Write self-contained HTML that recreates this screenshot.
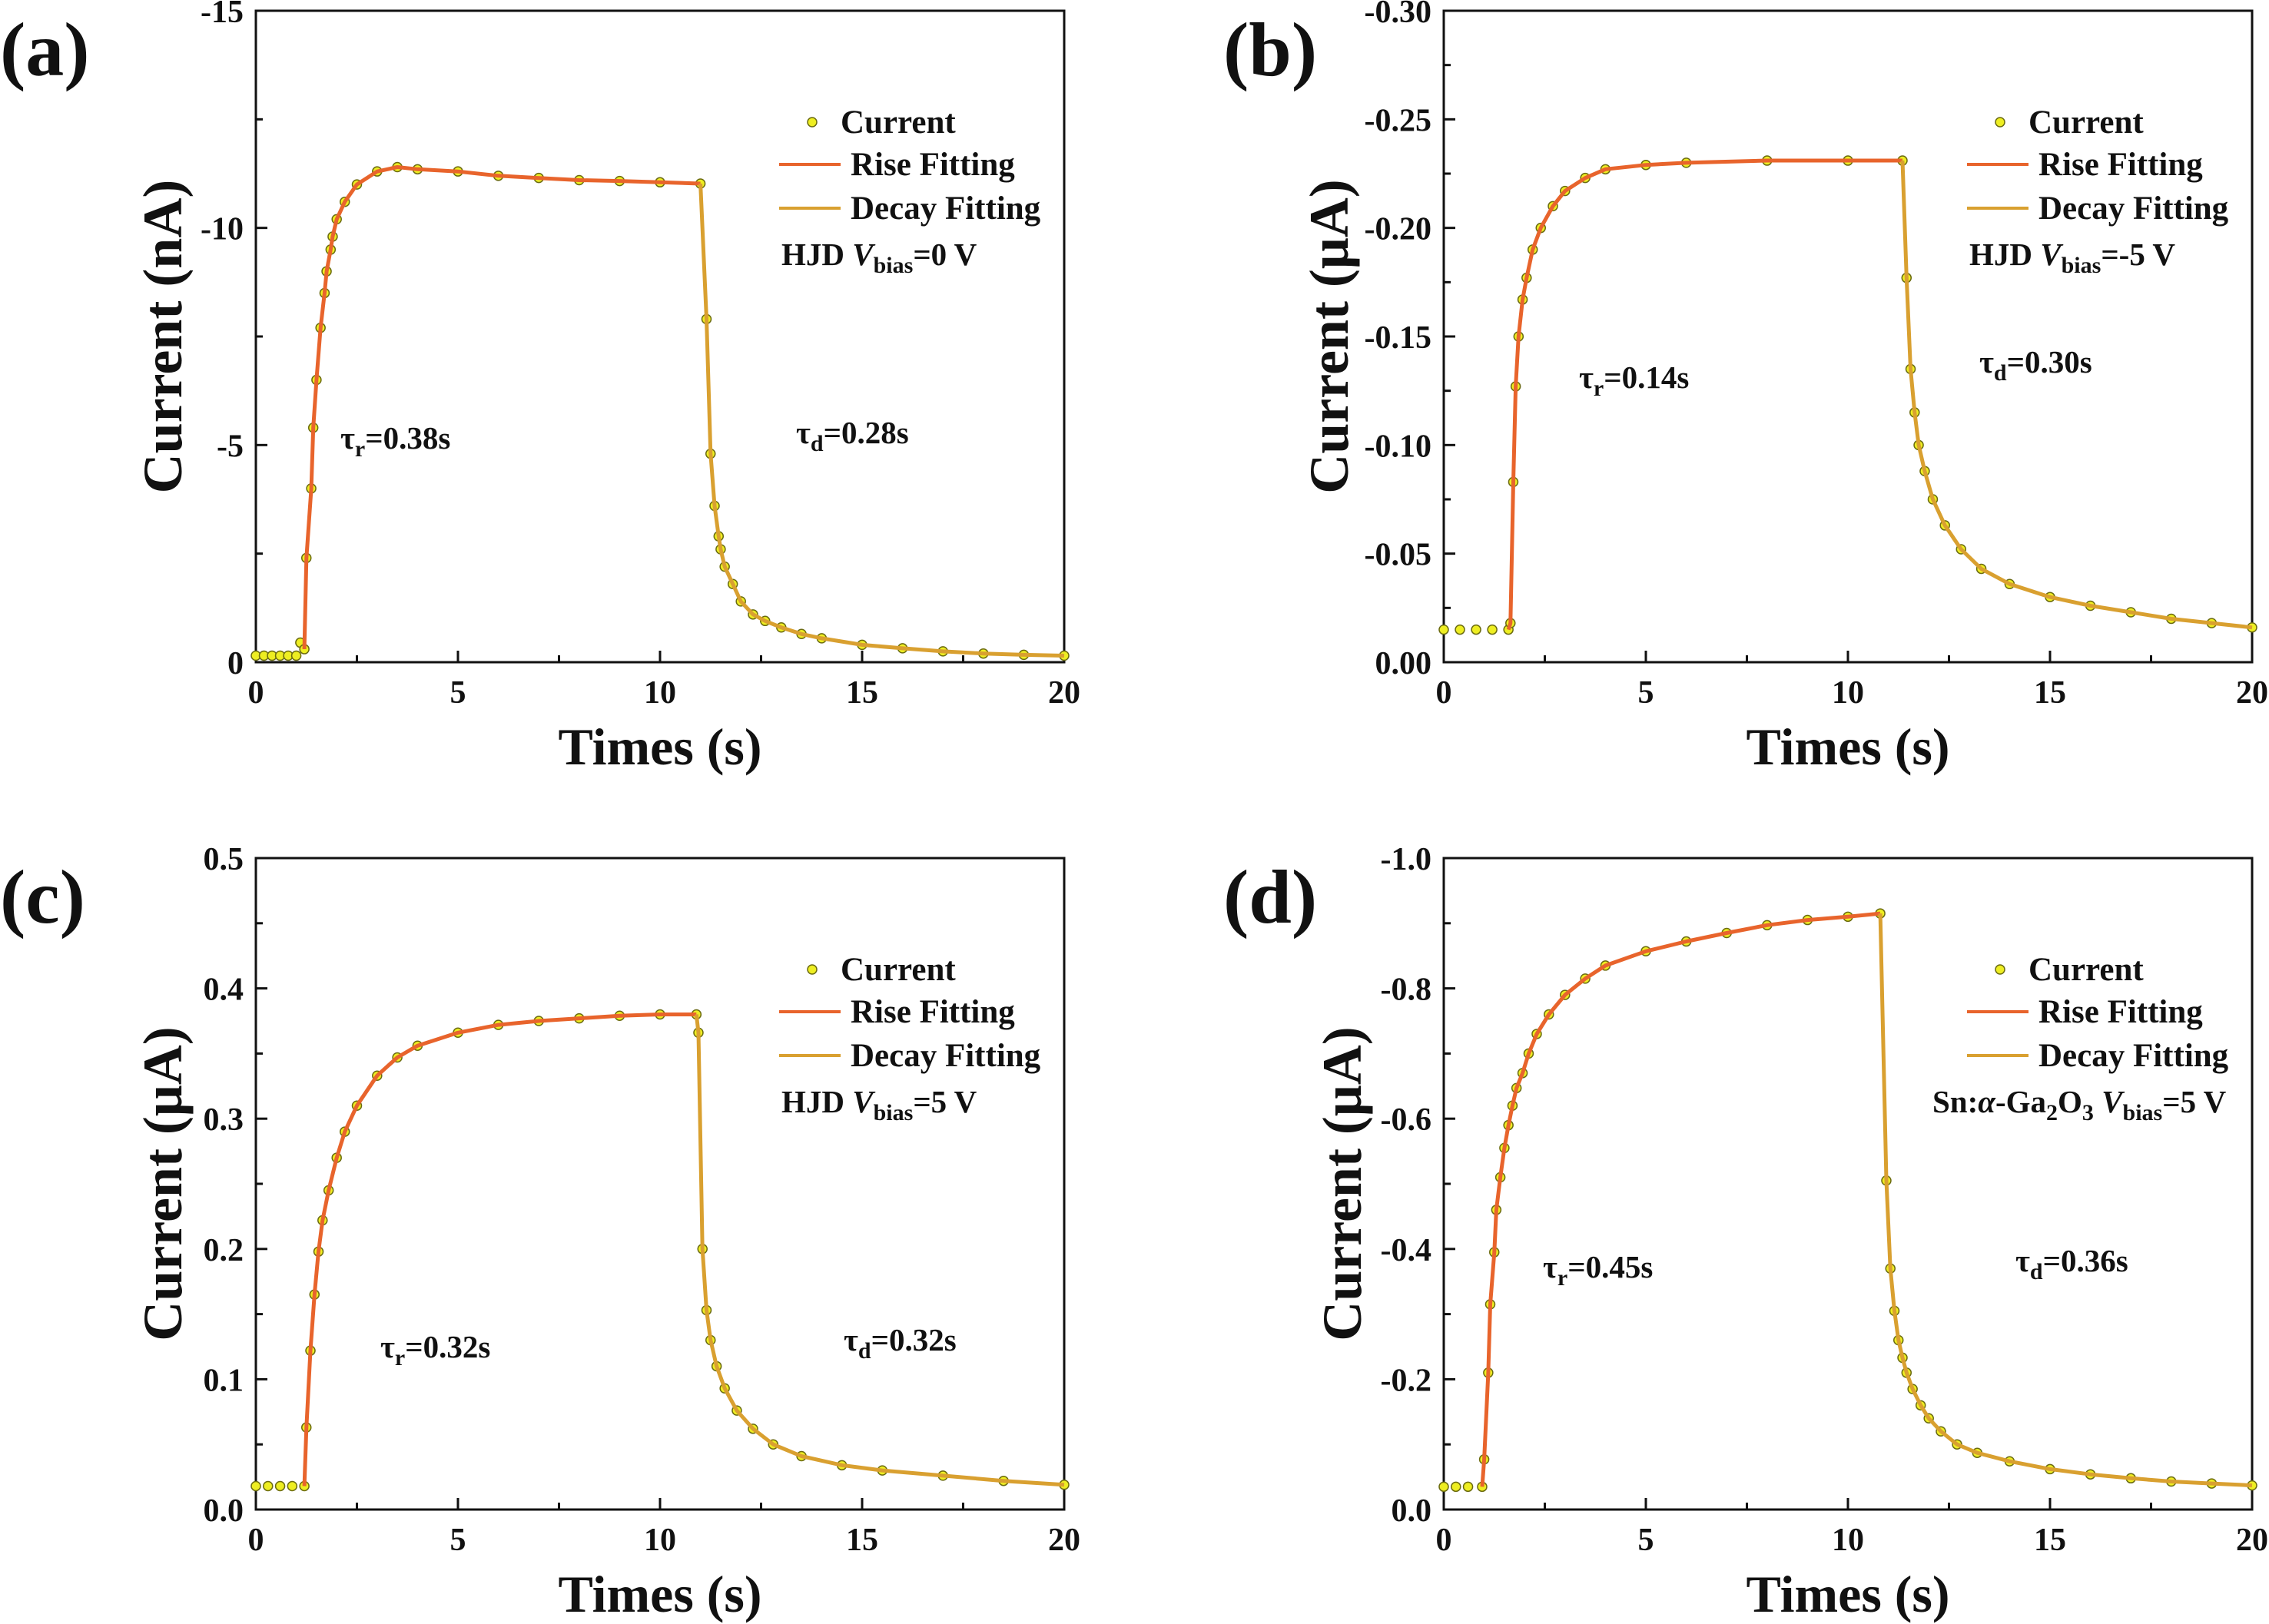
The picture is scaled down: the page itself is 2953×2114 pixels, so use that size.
<!DOCTYPE html>
<html><head><meta charset="utf-8"><style>
html,body{margin:0;padding:0;background:#fff}
svg{display:block}
text{font-family:"Liberation Serif",serif;font-weight:bold;fill:#111}
</style></head><body>
<svg id="chart" width="2953" height="2114" viewBox="0 0 2953 2114" xmlns="http://www.w3.org/2000/svg"></svg>
<script>
// ---- data ----
const timesA = [0,0.2,0.4,0.6,0.8,1.0,1.1,1.2,1.25,1.37,1.42,1.5,1.6,1.7,1.75,1.85,1.9,2.0,2.2,2.5,3.0,3.5,4,5,6,7,8,9,10,11.0,11.15,11.25,11.35,11.45,11.5,11.6,11.8,12.0,12.3,12.6,13,13.5,14,15,16,17,18,19,20];
const valuesA = [-0.15,-0.15,-0.15,-0.15,-0.15,-0.15,-0.45,-0.3,-2.4,-4.0,-5.4,-6.5,-7.7,-8.5,-9.0,-9.5,-9.8,-10.2,-10.6,-11.0,-11.3,-11.4,-11.35,-11.3,-11.2,-11.15,-11.1,-11.08,-11.05,-11.02,-7.9,-4.8,-3.6,-2.9,-2.6,-2.2,-1.8,-1.4,-1.1,-0.95,-0.8,-0.65,-0.55,-0.4,-0.32,-0.25,-0.2,-0.17,-0.15];
const timesB = [0,0.4,0.8,1.2,1.6,1.65,1.72,1.78,1.85,1.95,2.05,2.2,2.4,2.7,3,3.5,4,5,6,8,10,11.35,11.45,11.55,11.65,11.75,11.9,12.1,12.4,12.8,13.3,14,15,16,17,18,19,20];
const valuesB = [-0.015,-0.015,-0.015,-0.015,-0.015,-0.018,-0.083,-0.127,-0.15,-0.167,-0.177,-0.19,-0.2,-0.21,-0.217,-0.223,-0.227,-0.229,-0.23,-0.231,-0.231,-0.231,-0.177,-0.135,-0.115,-0.1,-0.088,-0.075,-0.063,-0.052,-0.043,-0.036,-0.03,-0.026,-0.023,-0.02,-0.018,-0.016];
const timesC = [0,0.3,0.6,0.9,1.2,1.25,1.35,1.45,1.55,1.65,1.8,2.0,2.2,2.5,3,3.5,4,5,6,7,8,9,10,10.9,10.95,11.05,11.15,11.25,11.4,11.6,11.9,12.3,12.8,13.5,14.5,15.5,17,18.5,20];
const valuesC = [0.018,0.018,0.018,0.018,0.018,0.063,0.122,0.165,0.198,0.222,0.245,0.27,0.29,0.31,0.333,0.347,0.356,0.366,0.372,0.375,0.377,0.379,0.38,0.38,0.366,0.2,0.153,0.13,0.11,0.093,0.076,0.062,0.05,0.041,0.034,0.03,0.026,0.022,0.019];
const timesD = [0,0.3,0.6,0.95,1.0,1.1,1.15,1.25,1.3,1.4,1.5,1.6,1.7,1.8,1.95,2.1,2.3,2.6,3,3.5,4,5,6,7,8,9,10,10.8,10.95,11.05,11.15,11.25,11.35,11.45,11.6,11.8,12.0,12.3,12.7,13.2,14,15,16,17,18,19,20];
const valuesD = [-0.035,-0.035,-0.035,-0.035,-0.077,-0.21,-0.315,-0.395,-0.46,-0.51,-0.555,-0.59,-0.62,-0.647,-0.67,-0.7,-0.73,-0.76,-0.79,-0.815,-0.835,-0.857,-0.872,-0.885,-0.897,-0.905,-0.91,-0.915,-0.505,-0.37,-0.305,-0.26,-0.233,-0.21,-0.185,-0.16,-0.14,-0.12,-0.1,-0.087,-0.074,-0.062,-0.054,-0.048,-0.043,-0.04,-0.037];
const xTicks = [0,5,10,15,20];
const yTicksA = [0,-5,-10,-15];
const yTickLabelsA = ["0","-5","-10","-15"];
const yTicksB = [0,-0.05,-0.10,-0.15,-0.20,-0.25,-0.30];
const yTickLabelsB = ["0.00","-0.05","-0.10","-0.15","-0.20","-0.25","-0.30"];
const yTicksC = [0,0.1,0.2,0.3,0.4,0.5];
const yTickLabelsC = ["0.0","0.1","0.2","0.3","0.4","0.5"];
const yTicksD = [0,-0.2,-0.4,-0.6,-0.8,-1.0];
const yTickLabelsD = ["0.0","-0.2","-0.4","-0.6","-0.8","-1.0"];

const NS = "http://www.w3.org/2000/svg";
const svg = document.getElementById("chart");
function mk(tag, attrs, parent){
  const e = document.createElementNS(NS, tag);
  for (const k in attrs) e.setAttribute(k, attrs[k]);
  (parent||svg).appendChild(e);
  return e;
}
function panel(id, L, T, times, vals, yTicks, yLabels, yMin, yMax, unit, offIdx, startIdx, info, tauR, tauD, titleOff){
  const R = L + 1052, B = T + 848;
  const g = mk("g", {});
  
  
  const xs = t => L + (t / 20) * (R - L);
  const ys = v => B - (v - yMin) / (yMax - yMin) * (B - T);
  const frame = mk("rect", {x:L, y:T, width:R-L, height:B-T, fill:"none", stroke:"#111", "stroke-width":3}, g);
  
  
  for (let i = 0; i < xTicks.length; i++){
    const x = xs(xTicks[i]);
    mk("line", {x1:x, y1:B, x2:x, y2:B-15, stroke:"#111", "stroke-width":3}, g);
    if (i < xTicks.length - 1){
      const xm = xs((xTicks[i] + xTicks[i+1]) / 2);
      mk("line", {x1:xm, y1:B, x2:xm, y2:B-9, stroke:"#111", "stroke-width":3}, g);
    }
    const lab = mk("text", {x:x, y:B+53, "font-size":42, "text-anchor":"middle"}, g);
    lab.textContent = xTicks[i];
    
    
  }
  for (let i = 0; i < yTicks.length; i++){
    const y = ys(yTicks[i]);
    mk("line", {x1:L, y1:y, x2:L+15, y2:y, stroke:"#111", "stroke-width":3}, g);
    if (i < yTicks.length - 1){
      const ym = ys((yTicks[i] + yTicks[i+1]) / 2);
      mk("line", {x1:L, y1:ym, x2:L+9, y2:ym, stroke:"#111", "stroke-width":3}, g);
    }
    const lab = mk("text", {x:L-16, y:y+15, "font-size":42, "text-anchor":"end"}, g);
    lab.textContent = yLabels[i];
    
    
  }
  const xt = mk("text", {x:(L+R)/2, y:B+133, "font-size":68, "text-anchor":"middle"}, g);
  xt.textContent = "Times (s)";
  
  
  const yt = mk("text", {x:0, y:0, "font-size":72, "text-anchor":"middle", transform:`translate(${L-titleOff},${(T+B)/2}) rotate(-90)`}, g);
  yt.textContent = "Current (" + unit + ")";
  
  
  const pl = mk("text", {x:(id==="a"||id==="c") ? 0 : 1592, y:T+84, "font-size":100}, g);
  pl.textContent = "(" + id + ")";
  
  
  let dr = "", dd = "";
  for (let i = startIdx; i <= offIdx; i++) dr += (i===startIdx?"M":"L") + xs(times[i]).toFixed(1) + "," + ys(vals[i]).toFixed(1);
  for (let i = offIdx; i < times.length; i++) dd += (i===offIdx?"M":"L") + xs(times[i]).toFixed(1) + "," + ys(vals[i]).toFixed(1);
  for (let i = 0; i < times.length; i++){
    const c = mk("circle", {cx:xs(times[i]), cy:ys(vals[i]), r:6, fill:"#eeee22", stroke:"#6b6b10", "stroke-width":1.5}, g);
    
    
  }
  const rl = mk("path", {d:dr, fill:"none", stroke:"#e8642c", "stroke-width":5, "stroke-linejoin":"round"}, g);
  
  
  const dl = mk("path", {d:dd, fill:"none", stroke:"#d9a030", "stroke-width":5, "stroke-linejoin":"round"}, g);
  
  
  const lg = mk("g", {}, g);
  
  
  mk("circle", {cx:L+724, cy:T+145, r:6, fill:"#eeee22", stroke:"#6b6b10", "stroke-width":1.5}, lg);
  let t1 = mk("text", {x:L+761, y:T+159, "font-size":43}, lg); t1.textContent = "Current";
  mk("line", {x1:L+681, y1:T+200, x2:L+761, y2:T+200, stroke:"#e8642c", "stroke-width":4}, lg);
  let t2 = mk("text", {x:L+774, y:T+214, "font-size":43}, lg); t2.textContent = "Rise Fitting";
  mk("line", {x1:L+681, y1:T+257, x2:L+761, y2:T+257, stroke:"#d9a030", "stroke-width":4}, lg);
  let t3 = mk("text", {x:L+774, y:T+271, "font-size":43}, lg); t3.textContent = "Decay Fitting";
  const inf = mk("text", {x:L+info.dx, y:T+331, "font-size":41}, g);
  inf.innerHTML = info.html;
  
  
  const tr = mk("text", {x:tauR[0], y:tauR[1], "font-size":41}, g);
  tr.innerHTML = 'τ<tspan dy="10" font-size="30">r</tspan><tspan dy="-10">=' + tauR[2] + '</tspan>';
  
  
  const td = mk("text", {x:tauD[0], y:tauD[1], "font-size":41}, g);
  td.innerHTML = 'τ<tspan dy="10" font-size="30">d</tspan><tspan dy="-10">=' + tauD[2] + '</tspan>';
  
  
}
const sub = s => '<tspan dy="10" font-size="30">' + s + '</tspan>';
panel("a", 333, 14, timesA, valuesA, yTicksA, yTickLabelsA, 0, -15, "nA", 29, 7,
  {dx:684, html:'HJD <tspan font-style="italic">V</tspan>' + sub('bias') + '<tspan dy="-10">=0 V</tspan>'}, [443,584,"0.38s"], [1036,577,"0.28s"], 97);
panel("b", 1879, 14, timesB, valuesB, yTicksB, yTickLabelsB, 0, -0.30, "μA", 21, 4,
  {dx:684, html:'HJD <tspan font-style="italic">V</tspan>' + sub('bias') + '<tspan dy="-10">=-5 V</tspan>'}, [2055,505,"0.14s"], [2576,485,"0.30s"], 125);
panel("c", 333, 1117, timesC, valuesC, yTicksC, yTickLabelsC, 0, 0.5, "μA", 23, 4,
  {dx:684, html:'HJD <tspan font-style="italic">V</tspan>' + sub('bias') + '<tspan dy="-10">=5 V</tspan>'}, [495,1767,"0.32s"], [1098,1758,"0.32s"], 97);
panel("d", 1879, 1117, timesD, valuesD, yTicksD, yTickLabelsD, 0, -1.0, "μA", 27, 3,
  {dx:636, html:'Sn:<tspan font-style="italic">α</tspan>-Ga' + sub('2') + '<tspan dy="-10">O</tspan>' + sub('3') + '<tspan dy="-10"> </tspan><tspan font-style="italic">V</tspan>' + sub('bias') + '<tspan dy="-10">=5 V</tspan>'}, [2008,1663,"0.45s"], [2623,1655,"0.36s"], 108);
</script>
</body></html>
